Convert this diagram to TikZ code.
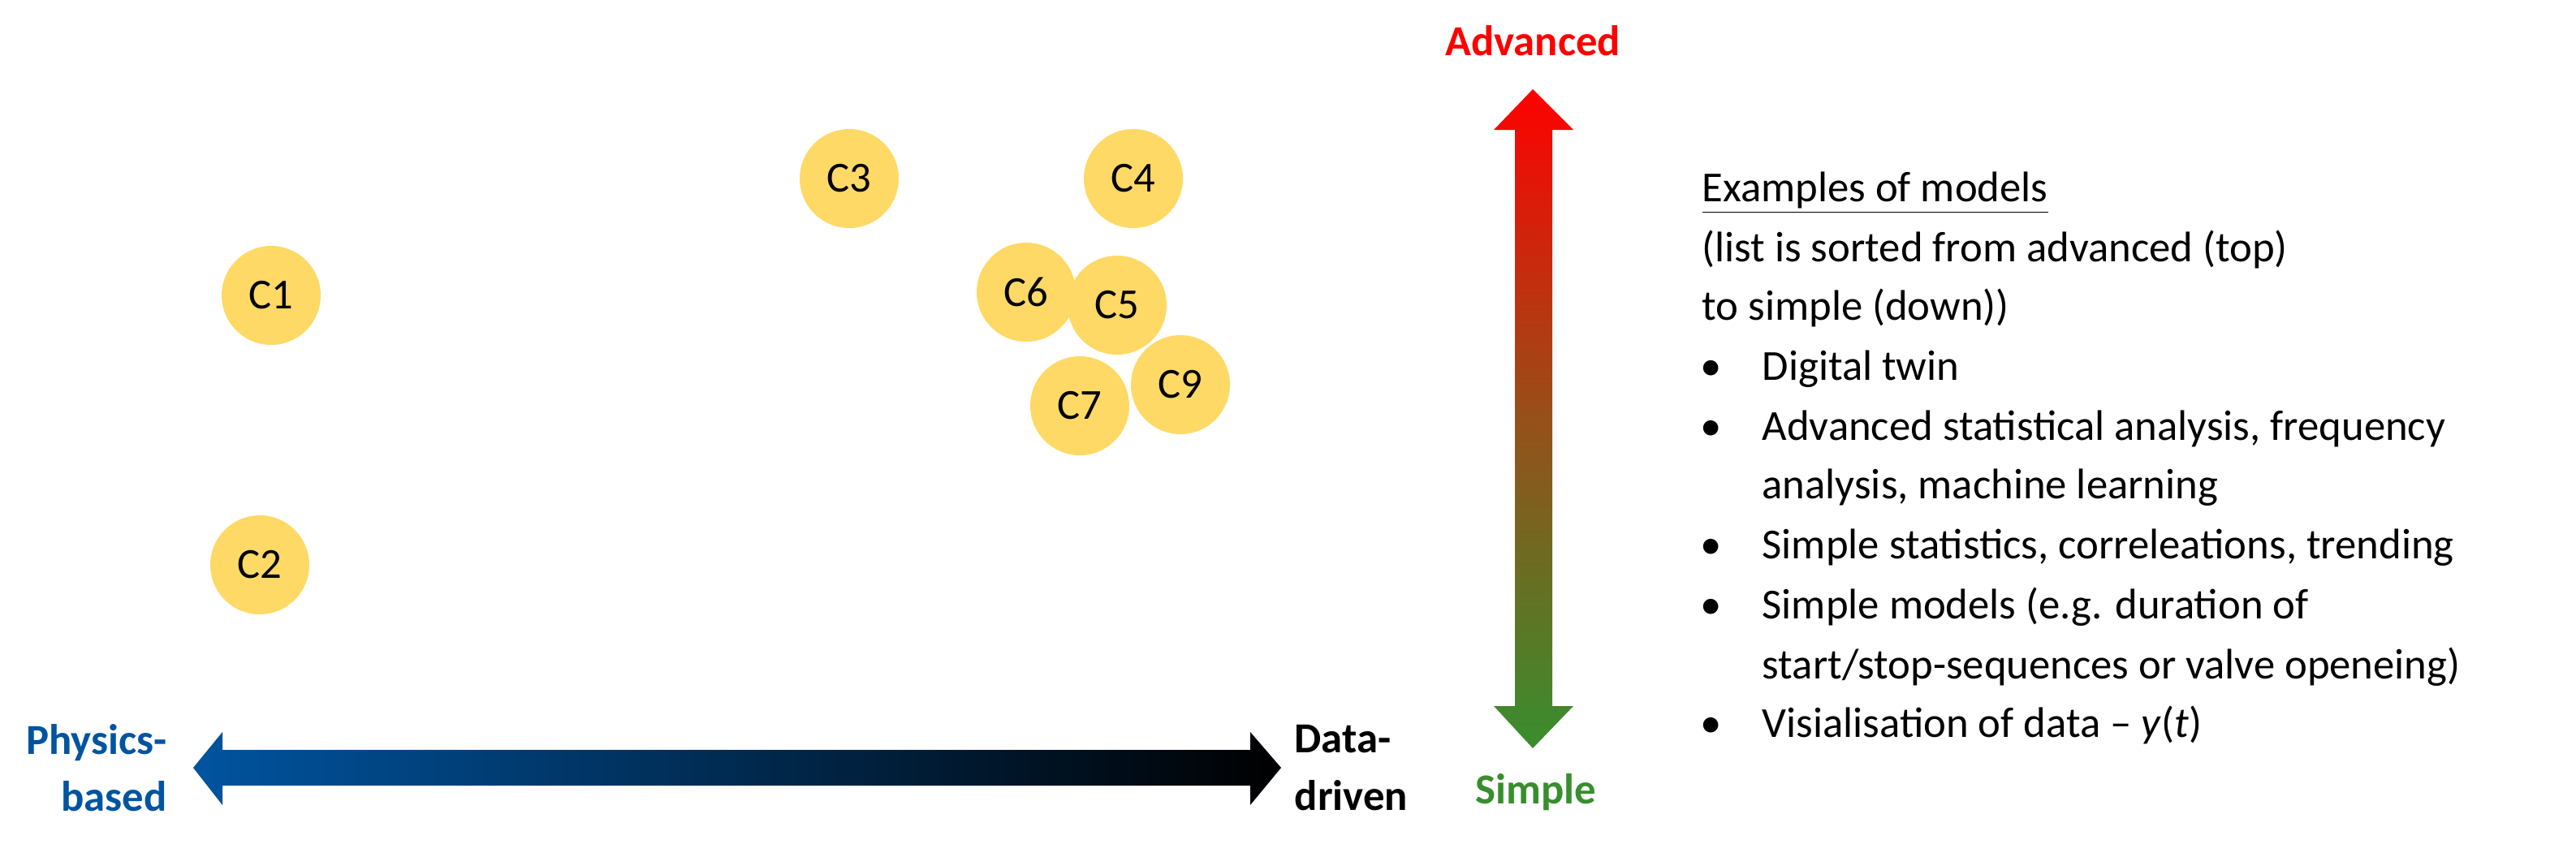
\documentclass[tikz,border=0pt]{standalone}
\usepackage{fontspec}
\setmainfont{Carlito}
\definecolor{cyel}{RGB}{255,217,102}
\definecolor{pblue}{RGB}{0,84,160}
\definecolor{sgreen}{RGB}{56,142,46}
\begin{document}
\begin{tikzpicture}[x=0.02cm,y=-0.02cm,
  circ/.style={circle,fill=cyel,minimum size=1.22cm,inner sep=0pt,font=\fontsize{15}{18}\selectfont},
  lbl/.style={font=\fontsize{15}{18}\selectfont\bfseries,inner sep=0pt},
  txt/.style={font=\fontsize{15}{18}\selectfont,anchor=base west,inner sep=0pt},
  bul/.style={font=\fontsize{15}{18}\selectfont,anchor=base,inner sep=0pt}]
\useasboundingbox (0,0) rectangle (1586.5,519.5);
% circles
\node[circ] (c1) at (167,182) {C1};
\node[circ] (c2) at (160,348) {C2};
\node[circ] (c3) at (523,110) {C3};
\node[circ] (c4) at (698,110) {C4};
\node[circ] (c6) at (632,180) {C6};
\node[circ] (c5) at (688,188) {C5};
\node[circ] (c9) at (727,237) {C9};
\node[circ] (c7) at (665,250) {C7};
% horizontal arrow
\shade[left color=pblue,right color=black]
  (119,473) -- (137,451) -- (137,462) -- (770,462) -- (770,451) -- (789,473)
  -- (770,496) -- (770,484) -- (137,484) -- (137,496) -- cycle;
\node[lbl,text=pblue,anchor=east,align=right] (pb) at (103,473) {Physics-\\[2pt]based};
\node[lbl,anchor=west,align=left] (dd) at (797,473) {Data-\\[2pt]driven};
% vertical arrow
\shade[top color=red,bottom color=sgreen,middle color={rgb,255:red,150;green,80;blue,25}]
  (944,55) -- (969,80) -- (956,80) -- (956,435) -- (969,435) -- (944,461)
  -- (920,435) -- (933,435) -- (933,80) -- (920,80) -- cycle;
\node[lbl,text=red] (adv) at (944,25) {Advanced};
\node[lbl,text=sgreen] (sim) at (946,488) {Simple};
% list
\node[txt] (t0) at (1048,124) {\underline{Examples of models}};
\node[txt] (t1) at (1048,161) {(list is sorted from advanced (top)};
\node[txt] (t2) at (1048,197) {to simple (down))};
\node[bul] (b1) at (1054,234) {•};
\node[txt] (t3) at (1085,234) {Digital twin};
\node[bul] (b2) at (1054,271) {•};
\node[txt] (t4) at (1085,271) {Advanced statistical analysis, frequency};
\node[txt] (t5) at (1085,307) {analysis, machine learning};
\node[bul] (b3) at (1054,344) {•};
\node[txt] (t6) at (1085,344) {Simple statistics, correleations, trending};
\node[bul] (b4) at (1054,381) {•};
\node[txt] (t7) at (1085,381) {Simple models (e.g. duration of};
\node[txt] (t8) at (1085,418) {start/stop-sequences or valve openeing)};
\node[bul] (b5) at (1054,454) {•};
\node[txt] (t9) at (1085,454) {Visialisation of data – \textit{y}(\textit{t})};
\end{tikzpicture}
\end{document}
